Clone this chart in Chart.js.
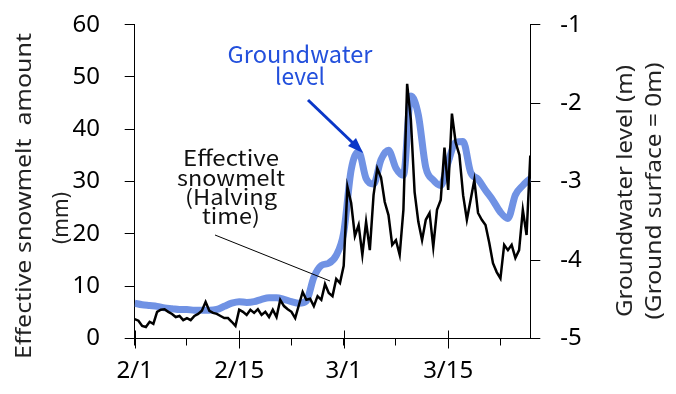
<!DOCTYPE html>
<html>
<head>
<meta charset="utf-8">
<title>Effective snowmelt and groundwater level</title>
<style>
  body { margin: 0; background: #fff; }
  #wrap { width: 676px; height: 394px; }
</style>
</head>
<body>
<div id="wrap"><canvas id="chart" width="676" height="394"></canvas></div>
<script src="https://cdn.jsdelivr.net/npm/chart.js"></script>
<script>
// days counted from 2/1
const xTickDays = [0, 7, 14, 21, 28, 35, 42, 49];
const tickDays = [0, 14, 28, 42];
const tickLabels = ['2/1', '2/15', '3/1', '3/15'];

// effective snowmelt (mm), one value every half day from 2/1
const meltStep = 0.5;
const meltValues = [
  3.7, 3.4, 2.4, 2.2, 3.2, 2.8, 5.1, 5.5, 5.6, 5.1,
  4.7, 4.1, 4.3, 3.5, 3.9, 3.5, 4.3, 4.7, 5.3, 7.0,
  5.3, 4.9, 4.7, 4.3, 3.9, 3.9, 3.2, 2.4, 5.5, 5.1,
  4.5, 5.5, 4.9, 5.6, 4.5, 5.1, 4.1, 5.5, 4.1, 7.4,
  6.2, 5.6, 5.1, 3.9, 6.4, 8.9, 7.4, 7.6, 6.2, 8.1,
  7.4, 10.4, 8.7, 8.1, 11.4, 10.6, 13.9, 29.0, 25.9, 19.6,
  21.7, 16.0, 22.3, 16.9, 27.4, 32.5, 30.8, 26.1, 23.6, 17.9,
  18.8, 16.0, 24.6, 48.7, 41.8, 28.0, 22.3, 18.8, 22.7, 24.0,
  17.5, 24.6, 26.5, 36.5, 28.4, 43.0, 37.5, 35.1, 27.4, 22.7,
  26.5, 30.3, 24.0, 22.7, 21.7, 18.3, 14.4, 12.7, 11.5, 17.9,
  16.9, 17.9, 15.4, 16.9, 24.6, 19.8, 35.0
];

// groundwater level (m), one value a day from 2/1
const gwValues = [
  -4.55, -4.57, -4.58, -4.59, -4.61, -4.62, -4.63, -4.63, -4.64, -4.64,
  -4.64, -4.63, -4.59, -4.55, -4.53, -4.54, -4.53, -4.50, -4.48, -4.48,
  -4.50, -4.53, -4.55, -4.52, -4.22, -4.07, -4.04, -3.94, -3.65, -2.85,
  -2.62, -2.96, -3.03, -2.72, -2.60, -2.83, -2.92, -1.91, -2.15, -2.82,
  -2.98, -3.05, -2.75, -2.50, -2.49, -2.88, -2.97, -3.11, -3.24, -3.39,
  -3.47, -3.17, -3.05, -2.96
];

const tickFont = { family: '"Noto Sans", sans-serif', size: 24 };
const titleFont = '21px "Noto Sans", sans-serif';
const noteFont = '21px "Noto Sans CJK JP", sans-serif';

// draw text centred at (x, y), rotated by angle, stretched to a given width
function fitText(c, text, x, y, width, angle) {
  const w = c.measureText(text).width;
  c.save();
  c.translate(x, y);
  if (angle) c.rotate(angle);
  if (width) c.scale(width / w, 1);
  c.fillText(text, 0, 0);
  c.restore();
}

// axis titles, annotations and the long major ticks on the date axis
const extras = {
  id: 'extras',
  afterDraw(chart) {
    const c = chart.ctx;
    const xs = chart.scales.x;
    const axisY = chart.chartArea.bottom;
    const up = -Math.PI / 2;

    c.save();
    c.strokeStyle = '#000';
    c.lineWidth = 1;
    tickDays.forEach(d => {
      const px = Math.round(xs.getPixelForValue(d)) + 0.5;
      c.beginPath();
      c.moveTo(px, axisY - 8);
      c.lineTo(px, axisY + 10);
      c.stroke();
    });

    c.fillStyle = '#222';
    c.font = titleFont;
    c.textAlign = 'center';
    c.textBaseline = 'middle';
    fitText(c, 'Effective snowmelt  amount', 25, 196, 326, up);
    fitText(c, '(mm)', 62, 218, 0, up);
    fitText(c, 'Groundwater level (m)', 626, 191, 252, up);
    fitText(c, '(Ground surface = 0m)', 655, 191, 257, up);

    // groundwater label and arrow
    c.font = '23px "Noto Sans CJK JP", sans-serif';
    c.fillStyle = '#2350dc';
    fitText(c, 'Groundwater', 300, 54, 145);
    fitText(c, 'level', 300, 76, 50);
    c.strokeStyle = '#0a37c8';
    c.fillStyle = '#0a37c8';
    c.lineWidth = 3;
    c.beginPath();
    c.moveTo(308, 100);
    c.lineTo(354, 144);
    c.stroke();
    c.beginPath();
    c.moveTo(363, 153);
    c.lineTo(348, 146);
    c.lineTo(356, 138);
    c.closePath();
    c.fill();

    // snowmelt label and leader line
    c.font = noteFont;
    c.fillStyle = '#111';
    fitText(c, 'Effective', 231, 158, 96);
    fitText(c, 'snowmelt', 231, 178, 108);
    fitText(c, '(Halving', 231, 197, 92);
    fitText(c, 'time)', 231, 216, 58);
    c.strokeStyle = '#000';
    c.lineWidth = 1;
    c.beginPath();
    c.moveTo(215, 235);
    c.lineTo(330, 281);
    c.stroke();
    c.restore();
  }
};

// keep the plot box fixed: no extra room for the end labels
function fixWidth(w) {
  return s => { s.width = w; s.paddingTop = 0; s.paddingBottom = 0; };
}

const ctx = document.getElementById('chart').getContext('2d');
new Chart(ctx, {
  type: 'line',
  data: {
    datasets: [
      {
        label: 'Effective snowmelt (Halving time)',
        data: meltValues.map((v, i) => ({ x: i * meltStep, y: v })),
        yAxisID: 'y',
        borderColor: '#000',
        borderWidth: 2.5,
        pointRadius: 0,
        tension: 0
      },
      {
        label: 'Groundwater level',
        data: gwValues.map((v, i) => ({ x: i, y: v })),
        yAxisID: 'y2',
        borderColor: '#7092e4',
        borderWidth: 7,
        pointRadius: 0,
        cubicInterpolationMode: 'monotone'
      }
    ]
  },
  options: {
    responsive: false,
    animation: false,
    layout: { padding: { top: 24.7, left: 0, right: 0, bottom: 0 } },
    plugins: { legend: { display: false }, tooltip: { enabled: false } },
    scales: {
      x: {
        type: 'linear',
        min: 0,
        max: 53,
        afterBuildTicks: s => { s.ticks = xTickDays.map(v => ({ value: v })); },
        afterFit: s => { s.height = 394 - 338.5; s.paddingLeft = 0; s.paddingRight = 0; },
        ticks: {
          font: tickFont,
          color: '#000',
          padding: 11,
          maxRotation: 0,
          autoSkip: false,
          callback: v => {
            const k = tickDays.indexOf(v);
            return k >= 0 ? tickLabels[k] : '';
          }
        },
        grid: { drawOnChartArea: false, tickLength: 7, color: '#000' },
        border: { color: '#000' }
      },
      y: {
        position: 'left',
        min: 0,
        max: 60,
        afterFit: fixWidth(134.7),
        ticks: { stepSize: 10, font: tickFont, color: '#000', padding: 24.7 },
        grid: { drawOnChartArea: false, tickLength: 10, color: '#000' },
        border: { color: '#000' }
      },
      y2: {
        position: 'right',
        min: -5,
        max: -1,
        afterFit: fixWidth(676 - 530.3),
        ticks: { stepSize: 1, font: tickFont, color: '#000', padding: 20 },
        grid: { drawOnChartArea: false, tickLength: 10, color: '#000' },
        border: { color: '#000' }
      }
    }
  },
  plugins: [extras]
});
</script>
</body>
</html>
